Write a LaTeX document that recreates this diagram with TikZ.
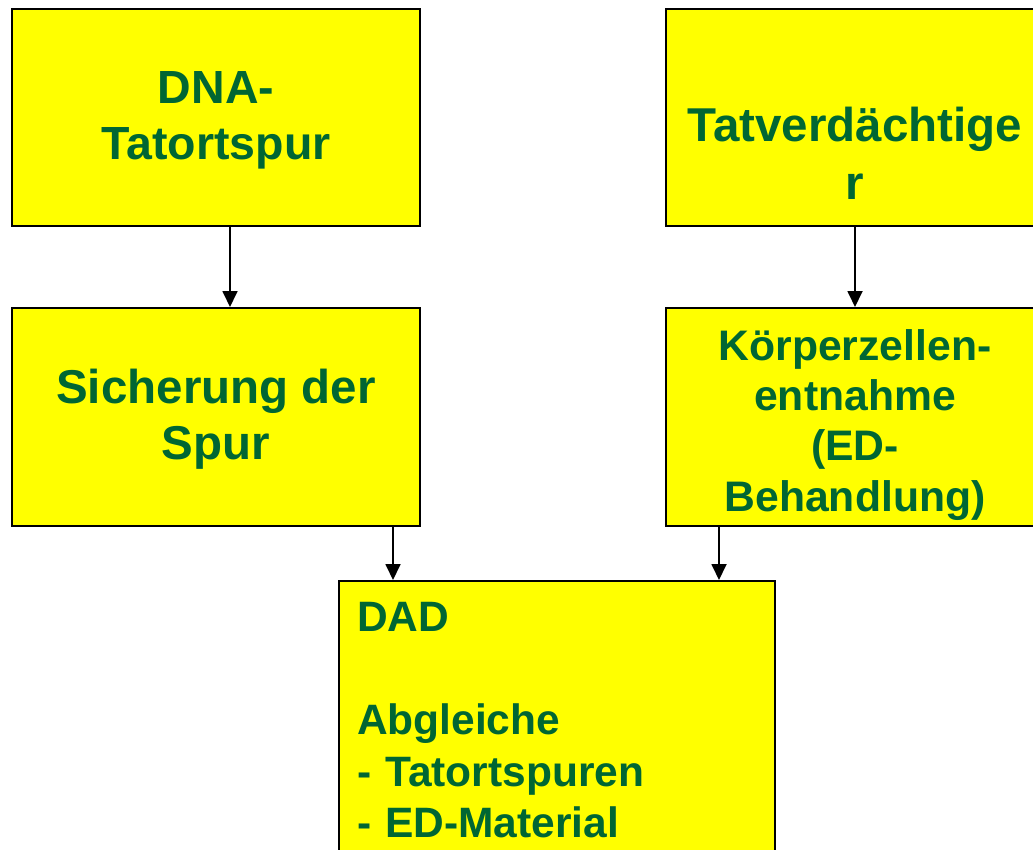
\documentclass[tikz,border=0pt]{standalone}
\usepackage{fontspec}
\setmainfont{Liberation Sans}
\usetikzlibrary{arrows.meta}
\definecolor{txtgreen}{RGB}{0,102,51}
\definecolor{boxyellow}{RGB}{255,255,0}
\newcommand{\topstrut}[1]{\rule{0pt}{#1pt}}
\newcommand{\botstrut}[1]{\rule[-#1pt]{0pt}{#1pt}}
\begin{document}
\begin{tikzpicture}[x=1pt,y=1pt,
  box/.style={draw=black, line width=2pt, fill=boxyellow, text=txtgreen,
    align=center, inner sep=0pt},
  fs/.style 2 args={font=\fontsize{#1}{#2}\selectfont\bfseries},
  arr/.style={line width=1.8pt, -{Triangle[length=16pt,width=15pt]}}]
\useasboundingbox (0,0) rectangle (1033,-849);
\node[box, fs={46.5}{56.5}, minimum width=408pt, minimum height=217pt] (dna) at (216,-117.5)
  {\topstrut{45}DNA-\\Tatortspur\botstrut{17}};
\node[box, fs={47.5}{58}, minimum width=378pt, minimum height=217pt] (tv) at (855,-117.5)
  {\topstrut{117.4}Tatverdächtige\\r\botstrut{11}};
\node[box, fs={47.5}{56.5}, minimum width=408pt, minimum height=218pt] (sich) at (216,-417)
  {\topstrut{45}Sicherung der\\Spur\botstrut{15.9}};
\node[box, fs={42.7}{50.4}, minimum width=378pt, minimum height=218pt] (kz) at (855,-417)
  {\topstrut{48.2}Körperzellen-\\entnahme\\(ED-\\Behandlung)\botstrut{11}};
\node[box, fs={42.5}{51.5}, minimum width=436pt, minimum height=289pt, text width=400pt, align=left] (dad) at (557,-725.5)
  {\topstrut{40}DAD\\\mbox{}\\Abgleiche\\- Tatortspuren\\- ED-Material\botstrut{21.6}};
\draw[arr] ([xshift=14pt]dna.south) -- ([xshift=14pt]sich.north);
\draw[arr] (tv.south) -- (kz.north);
\draw[arr] (sich.south -| 393,0) -- (dad.north -| 393,0);
\draw[arr] (kz.south -| 719,0) -- (dad.north -| 719,0);
\end{tikzpicture}
\end{document}
